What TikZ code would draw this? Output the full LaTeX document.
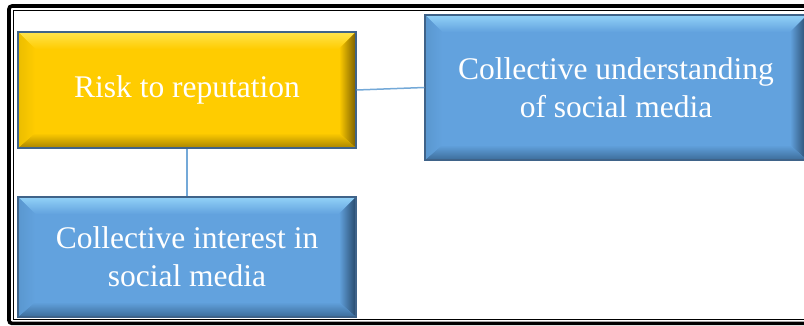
\documentclass[tikz,border=0pt]{standalone}
\usepackage{fontspec}
\setmainfont{Liberation Serif}
\definecolor{gold}{HTML}{FFCC00}
\definecolor{goldlight}{HTML}{FFE44D}
\definecolor{golddark}{HTML}{7A5E00}
\definecolor{goldbottom}{HTML}{A88400}
\definecolor{goldleft}{HTML}{EBBD00}
\definecolor{sky}{HTML}{62A2DE}
\definecolor{skylight}{HTML}{92D2F8}
\definecolor{skydark}{HTML}{27496B}
\definecolor{skybottom}{HTML}{3C6C99}
\definecolor{skyleft}{HTML}{5A97CF}
\definecolor{boxline}{HTML}{3F6389}
\definecolor{linkblue}{HTML}{74A9D8}
\tikzset{
  x=1pt, y=1pt,
  % rectangle with a bevelled rim: base, light top, dark right, dark bottom, left rim
  bevelbox/.style n args={5}{
    draw=boxline, line width=1.4pt, fill=#1,
    text=white, align=center, inner sep=0pt,
    font=\fontsize{31.5}{38}\selectfont,
    path picture={
      \coordinate (bNW) at (path picture bounding box.north west);
      \coordinate (bNE) at (path picture bounding box.north east);
      \coordinate (bSW) at (path picture bounding box.south west);
      \coordinate (bSE) at (path picture bounding box.south east);
      \shade[top color=#2, bottom color=#1]
        (bNW) -- (bNE) -- ([shift={(-17,-17)}]bNE) -- ([shift={(17,-17)}]bNW) -- cycle;
      \shade[left color=#1, right color=#3]
        (bNE) -- (bSE) -- ([shift={(-17,15)}]bSE) -- ([shift={(-17,-17)}]bNE) -- cycle;
      \shade[top color=#1, bottom color=#4]
        (bSE) -- (bSW) -- ([shift={(17,15)}]bSW) -- ([shift={(-17,15)}]bSE) -- cycle;
      \shade[left color=#5, right color=#1]
        (bSW) -- (bNW) -- ([shift={(17,-17)}]bNW) -- ([shift={(17,15)}]bSW) -- cycle;
    }
  },
  goldbox/.style={bevelbox={gold}{goldlight}{golddark}{goldbottom}{goldleft}},
  skybox/.style={bevelbox={sky}{skylight}{skydark}{skybottom}{skyleft}},
  link/.style={draw=linkblue, line width=1.5pt}
}
\begin{document}
\begin{tikzpicture}
\useasboundingbox (0,0) rectangle (804,326);
\clip (0,0) rectangle (804,326);
\fill[white] (0,0) rectangle (804,326);

% double frame, open to the right
\draw[line width=3.6pt, rounded corners=3pt] (840,320) -- (9,320) -- (9,2.6) -- (840,2.6);
\draw[line width=1.2pt] (840,315.5) -- (13.5,315.5) -- (13.5,6.6) -- (840,6.6);

\node[goldbox, minimum width=338, minimum height=116] (risk) at (187,236) {Risk to reputation};
\node[skybox, minimum width=382, minimum height=145] (understanding) at (616,238.5)
  {Collective understanding\\of social media};
\node[skybox, minimum width=338, minimum height=120] (interest) at (187,69)
  {Collective interest in\\social media};

\draw[link] (risk.east) -- (understanding.west);
\draw[link] (risk.south) -- (interest.north);
\end{tikzpicture}
\end{document}
